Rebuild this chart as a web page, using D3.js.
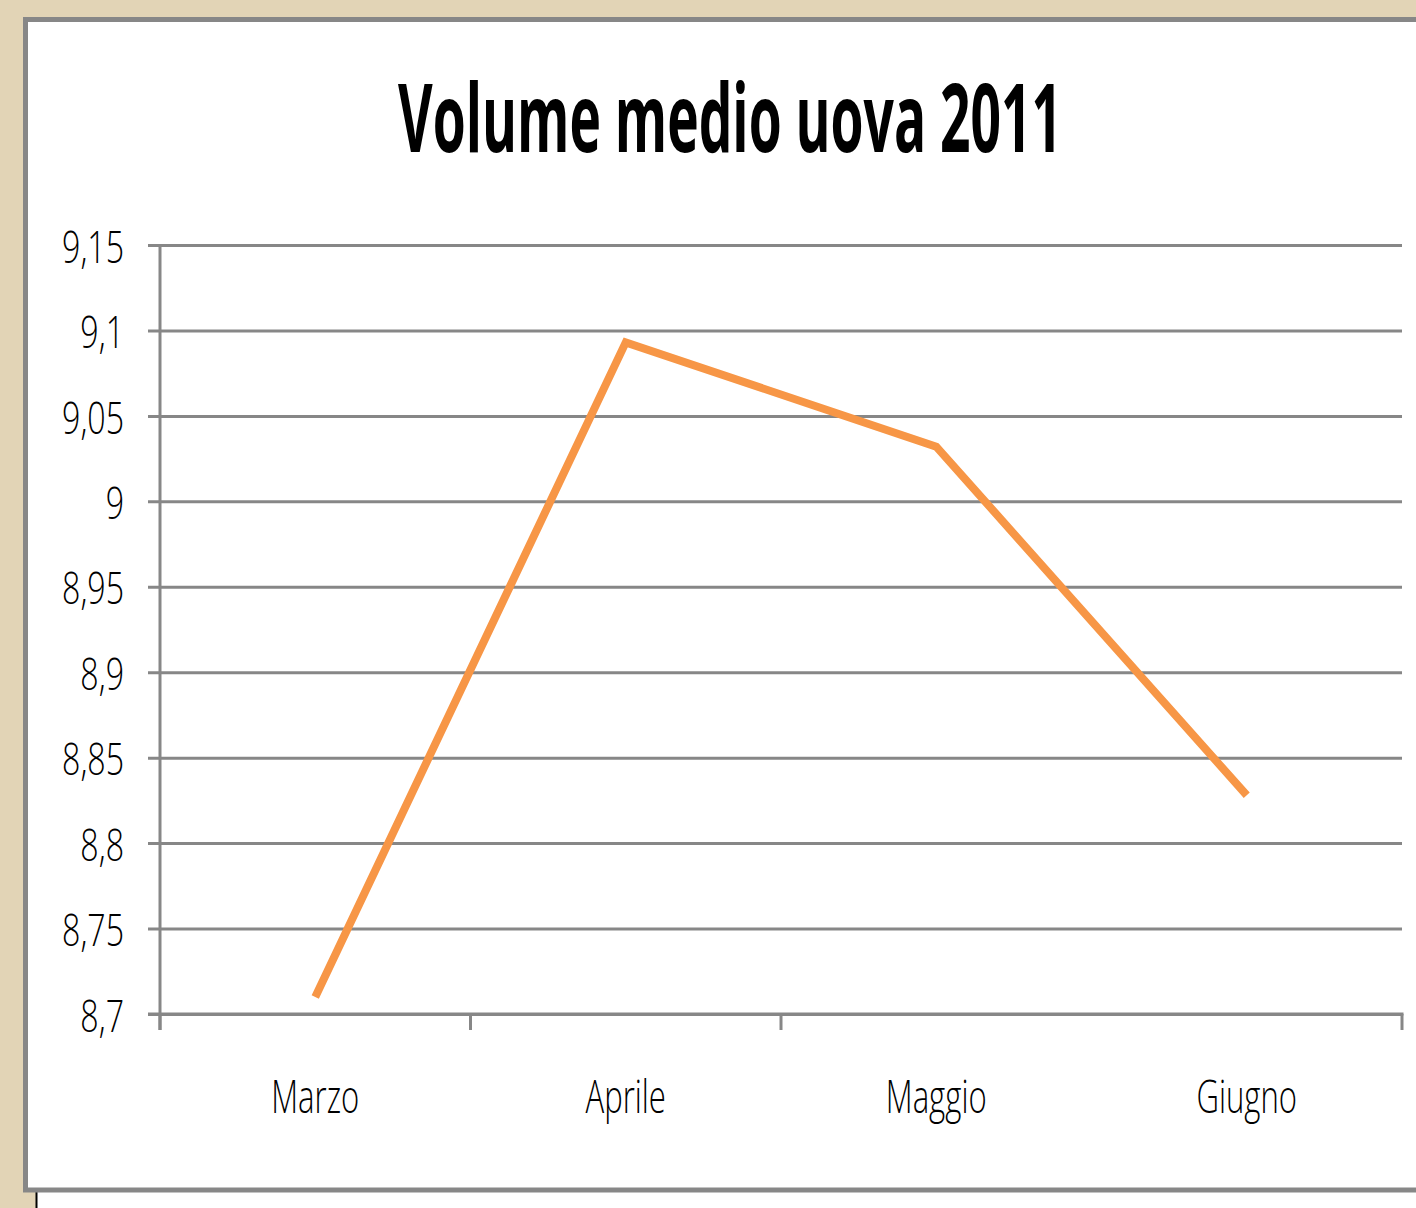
<!DOCTYPE html>
<html>
<head>
<meta charset="utf-8">
<script src="https://cdn.jsdelivr.net/npm/d3@7"></script>
<style>
  html, body { margin: 0; padding: 0; background: #e2d4b6; overflow: hidden; }
  svg { display: block; }
</style>
</head>
<body>
<svg id="chart" width="1416" height="1208"></svg>
<script>
// ---- data ----
const title = "Volume medio uova 2011";
const categories = ["Marzo", "Aprile", "Maggio", "Giugno"];
const values = [8.71, 9.093, 9.032, 8.828];
const yTicks = [8.7, 8.75, 8.8, 8.85, 8.9, 8.95, 9.0, 9.05, 9.1, 9.15];
const yTickLabels = ["8,7", "8,75", "8,8", "8,85", "8,9", "8,95", "9", "9,05", "9,1", "9,15"];

// ---- layout ----
const W = 1416, H = 1208;
const plot = { left: 160, right: 1402, top: 245, bottom: 1014 };
const gridColor = "#878787";
const lineColor = "#F79646";
const LABEL_FONT = "'Open Sans', 'Liberation Sans Narrow', sans-serif";
const TITLE_FONT = "'Open Sans', 'Liberation Sans Narrow', sans-serif";

const svg = d3.select("#chart");

svg.append("rect").attr("x", 0).attr("y", 0).attr("width", W).attr("height", H).attr("fill", "#e2d4b6");
svg.append("rect").attr("x", 36).attr("y", 1192).attr("width", W).attr("height", 30).attr("fill", "#ffffff");
svg.append("line").attr("x1", 36.5).attr("x2", 36.5).attr("y1", 1192).attr("y2", H)
  .attr("stroke", "#000").attr("stroke-width", 2);
svg.append("rect").attr("x", 25.5).attr("y", 19.5).attr("width", W + 20).attr("height", 1170.5)
  .attr("fill", "#ffffff").attr("stroke", gridColor).attr("stroke-width", 5);

// scales
const x = d3.scaleBand().domain(categories).range([plot.left, plot.right]).padding(0);
const y = d3.scaleLinear().domain([yTicks[0], yTicks[yTicks.length - 1]]).range([plot.bottom, plot.top]);

function squeeze(sel, scaleX) {
  sel.each(function () {
    const t = d3.select(this);
    const ax = +t.attr("x") || 0;
    t.attr("transform", `translate(${ax},0) scale(${scaleX},1) translate(${-ax},0)`);
  });
}
function fitWidth(sel, target) {
  const w = sel.node().getComputedTextLength();
  return target / w;
}

// gridlines + y axis
const yAxis = d3.axisLeft(y)
  .tickValues(yTicks)
  .tickSize(12)
  .tickFormat((d, i) => yTickLabels[i]);
const gy = svg.append("g").attr("transform", `translate(${plot.left},0)`).call(yAxis);
gy.select(".domain").remove();
gy.selectAll(".tick line").attr("x2", plot.right - plot.left).attr("x1", -12)
  .attr("stroke", gridColor).attr("stroke-width", 3);
gy.selectAll(".tick text")
  .attr("x", -36).attr("dy", "0.38em")
  .attr("fill", "#000").attr("text-anchor", "end")
  .style("font-family", LABEL_FONT).style("font-size", "45px").style("font-weight", 300);

svg.append("line").attr("x1", plot.left).attr("x2", plot.left)
  .attr("y1", plot.top).attr("y2", plot.bottom + 16)
  .attr("stroke", gridColor).attr("stroke-width", 3);

svg.append("line").attr("x1", plot.left - 12).attr("x2", plot.right + 1.5)
  .attr("y1", plot.bottom).attr("y2", plot.bottom)
  .attr("stroke", gridColor).attr("stroke-width", 3);
// x ticks at category boundaries (the reference omits the one before Giugno)
const boundaries = categories.map(c => x(c)).concat([x.range()[1]]);
svg.append("g").selectAll("line")
  .data(boundaries.filter((b, i) => i !== 3))
  .join("line")
  .attr("x1", d => d).attr("x2", d => d)
  .attr("y1", plot.bottom).attr("y2", plot.bottom + 16)
  .attr("stroke", gridColor).attr("stroke-width", 3);

// x labels
const xl = svg.append("g").selectAll("text")
  .data(categories)
  .join("text")
  .attr("x", d => x(d) + x.bandwidth() / 2)
  .attr("y", 1113)
  .attr("text-anchor", "middle")
  .attr("fill", "#000")
  .style("font-family", LABEL_FONT).style("font-size", "46px").style("font-weight", 300)
  .text(d => d);

// title
const tt = svg.append("text")
  .attr("x", 730).attr("y", 152)
  .attr("text-anchor", "middle")
  .attr("fill", "#000")
  .style("font-family", TITLE_FONT).style("font-size", "95px").style("font-weight", "bold")
  .text(title);

squeeze(tt, fitWidth(tt, 664));
squeeze(xl, fitWidth(xl.filter(d => d === "Marzo"), 88));
squeeze(gy.selectAll(".tick text"), fitWidth(gy.selectAll(".tick text").filter((d, i) => i === yTicks.length - 1), 62));

// data line
const line = d3.line()
  .x((d, i) => x(categories[i]) + x.bandwidth() / 2)
  .y(d => y(d));
svg.append("path")
  .datum(values)
  .attr("d", line)
  .attr("fill", "none")
  .attr("stroke", lineColor)
  .attr("stroke-width", 8)
  .attr("stroke-linejoin", "miter");
</script>
</body>
</html>
